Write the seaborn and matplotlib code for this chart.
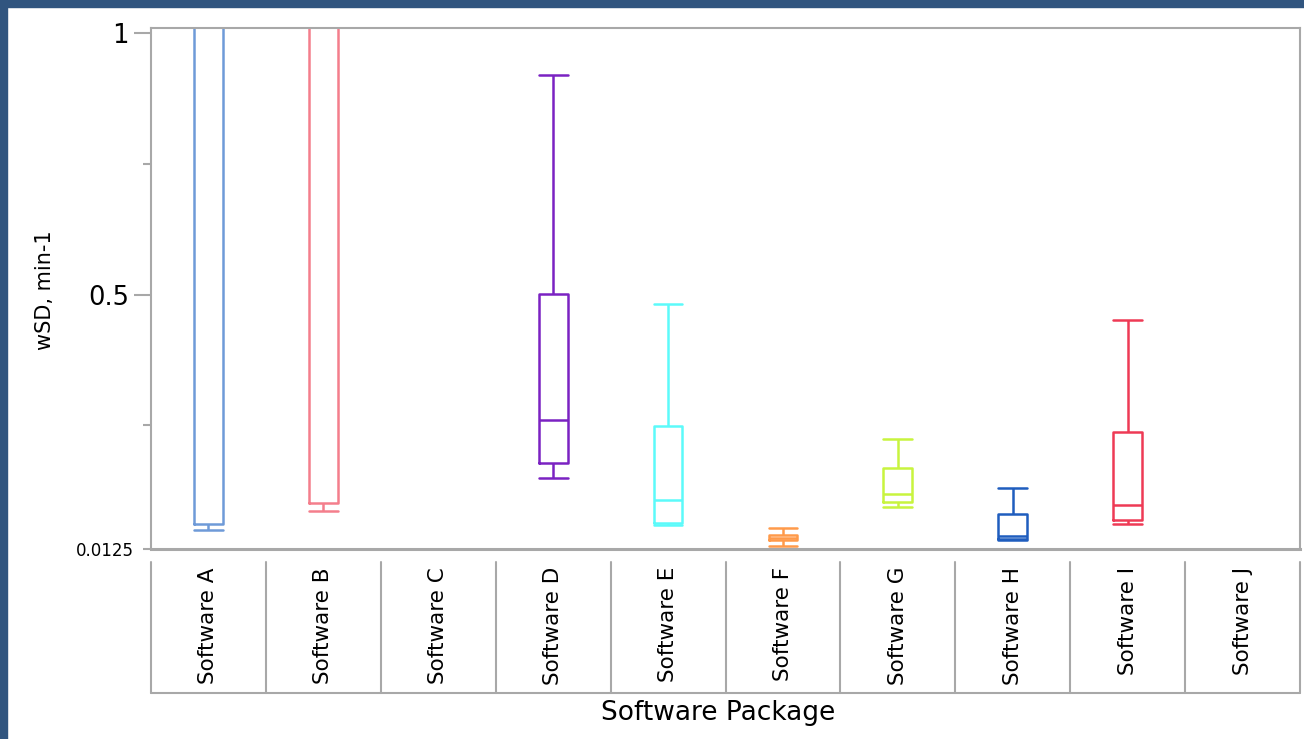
import numpy as np
import pandas as pd
import matplotlib
matplotlib.use("Agg")
import matplotlib.pyplot as plt
from matplotlib.patches import Rectangle
from matplotlib.transforms import blended_transform_factory
import seaborn as sns

# Five-number summaries of wSD (min-1) per software package
packages = ["Software A", "Software B", "Software C", "Software D", "Software E",
            "Software F", "Software G", "Software H", "Software I", "Software J"]
wsd_min = [0.049, 0.085, None, 0.1485, 0.059, 0.018, 0.093, 0.030, 0.060, None]
wsd_q1 = [0.0603, 0.1006, None, 0.177, 0.062, 0.0297, 0.1025, 0.0316, 0.068, None]
wsd_median = [1.30, 1.20, None, 0.2596, 0.106, 0.0345, 0.1178, 0.0374, 0.0968, None]
wsd_q3 = [2.00, 1.90, None, 0.501, 0.248, 0.0393, 0.1676, 0.0795, 0.2366, None]
wsd_max = [2.60, 2.40, None, 0.9205, 0.482, 0.0527, 0.2232, 0.1293, 0.451, None]

box_colors = ["#6E9AD8", "#F47E8C", "#999999", "#7B22C2", "#5CFAFA",
              "#FF9A4A", "#C8F43E", "#1F5DBE", "#EE3A55", "#999999"]

rows = []
for name, lo, q1, med, q3, hi in zip(packages, wsd_min, wsd_q1, wsd_median, wsd_q3, wsd_max):
    if lo is None:
        continue
    for v in (lo, q1, med, q3, hi):
        rows.append({"package": name, "wsd": v})
df = pd.DataFrame(rows)

sns.set_theme(style="white")
plt.rcParams["font.family"] = ["DejaVu Sans"]
plt.rcParams["text.color"] = "black"
plt.rcParams["xtick.color"] = "black"
plt.rcParams["ytick.color"] = "black"

W, H = 1304, 739
fig = plt.figure(figsize=(W / 100, H / 100), dpi=100)
ax = fig.add_axes([151 / W, 1 - 549 / H, (1300 - 151) / W, (549 - 28) / H])

palette = dict(zip(packages, box_colors))
sns.boxplot(data=df, x="package", y="wsd", hue="package", order=packages,
            hue_order=packages, palette=palette, fill=False, width=0.25,
            whis=(0, 100), linewidth=1.8, legend=False, ax=ax, capwidths=0.25)

ax.set_xlim(-0.5, len(packages) - 0.5)
ax.set_ylim(0.0125, 1.0105)

grey = "#A8A8A8"
for s in ax.spines.values():
    s.set_visible(True)
    s.set_color(grey)
    s.set_linewidth(1.5)
ax.spines["bottom"].set_linewidth(2.2)

# y ticks: long labelled ticks, short unlabelled ones
ax.set_yticks([0.5, 1.0])
ax.set_yticklabels(["0.5", "1"])
ax.set_yticks([0.0125, 0.25, 0.75], minor=True)
ax.set_yticklabels(["0.0125", "", ""], minor=True)
ax.tick_params(axis="y", which="major", left=True, length=12, width=1.5,
               color=grey, labelcolor="black", labelsize=18.5, pad=4)
ax.tick_params(axis="y", which="minor", left=True, length=6, width=1.5,
               color=grey, labelcolor="black", labelsize=12, pad=6)

# category labels inside a table-like band below the plot
ax.set_xticks(range(len(packages)))
ax.set_xticklabels(packages, rotation=90, va="top", ha="center")
ax.tick_params(axis="x", length=0, labelsize=15.5, labelcolor="black", pad=13)
ax.set_xlabel("")
ax.set_ylabel("")

trans = blended_transform_factory(ax.transData, ax.transAxes)
band_top = -13 / 521
band_bottom = -144 / 521
for b in np.arange(-0.5, len(packages), 1.0):
    ax.plot([b, b], [band_top, band_bottom], transform=trans, color=grey,
            lw=1.5, clip_on=False)
ax.plot([-0.5, len(packages) - 0.5], [band_bottom, band_bottom], transform=trans,
        color=grey, lw=1.5, clip_on=False)

ax.text(0.494, (549 - 713) / 521, "Software Package", transform=ax.transAxes,
        ha="center", va="center", fontsize=19, color="black")
ax.text(-0.092, 0.497, "wSD, min-1", transform=ax.transAxes, rotation=90,
        ha="center", va="center", fontsize=15, color="black")

# dark blue frame on the left and top edges
frame = "#31557F"
fig.add_artist(Rectangle((0, 0), 7 / W, 1, transform=fig.transFigure,
                         color=frame, zorder=10))
fig.add_artist(Rectangle((0, 1 - 7 / H), 1, 7 / H, transform=fig.transFigure,
                         color=frame, zorder=10))

fig.savefig("out.png", dpi=100, facecolor="white")
